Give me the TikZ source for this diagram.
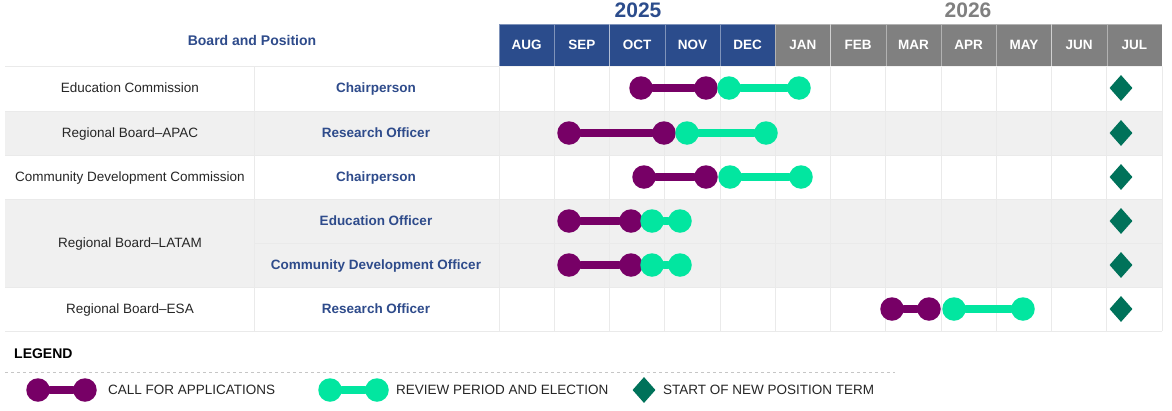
\documentclass[tikz,border=0pt]{standalone}
\usepackage{fontspec}
\setmainfont{Liberation Sans}
\usetikzlibrary{shapes.geometric}
\definecolor{navy}{HTML}{2B4C8C}
\definecolor{hdrgray}{HTML}{808080}
\definecolor{rowgray}{HTML}{F0F0F0}
\definecolor{gridgray}{HTML}{EAEAEA}
\definecolor{plum}{HTML}{770066}
\definecolor{mint}{HTML}{02E6A0}
\definecolor{termgreen}{HTML}{00725A}
\definecolor{posblue}{HTML}{2E4B8B}

\begin{document}
\begin{tikzpicture}[
  x=1pt, y=-1pt,
  pdot/.style={circle, fill=plum, inner sep=0pt, minimum size=23.5pt},
  gdot/.style={circle, fill=mint, inner sep=0pt, minimum size=23.5pt},
  pbar/.style={plum, line width=8pt, line cap=round},
  gbar/.style={mint, line width=7.5pt, line cap=round},
  startmark/.style={diamond, fill=termgreen, inner sep=0pt, minimum width=23pt, minimum height=26pt},
  monthcell/.style={fill=#1, draw=white, draw opacity=0.4, line width=0.4pt,
    minimum width=55.25pt, minimum height=42pt, inner sep=0pt, text=white,
    font=\bfseries\fontsize{13.5}{15}\selectfont},
  board/.style={font=\fontsize{13.5}{16}\selectfont, text=black!85, text height=10pt, text depth=0.5pt},
  post/.style={font=\bfseries\fontsize{13.5}{16}\selectfont, text=posblue, text height=10pt, text depth=0.5pt},
  legtext/.style={anchor=west, inner sep=0pt, font=\fontsize{13.5}{16}\selectfont, text=black!85},
  gridline/.style={gridgray, line width=0.6pt}
]
\useasboundingbox[fill=white] (0,0) rectangle (1172,410);

\fill[rowgray] (5,111) rectangle (1162,155);
\fill[rowgray] (5,199) rectangle (1162,287);
\foreach \k in {0,...,12}
  \draw[gridline] ({499+\k*55.25},66) -- ({499+\k*55.25},331);
\draw[gridline] (254,66) -- (254,331);
\foreach \y in {66,111,155,199,287,331}
  \draw[gridline] (5,\y) -- (1162,\y);
\draw[gridline] (254,243) -- (1162,243);

\node[font=\bfseries\fontsize{21}{24}\selectfont, text=navy] (y25) at (638,10) {2025};
\node[font=\bfseries\fontsize{21}{24}\selectfont, text=hdrgray] (y26) at (968,10) {2026};
\node[font=\bfseries\fontsize{14}{16}\selectfont, text=posblue] (hdr) at (252,40) {Board and Position};
\foreach \m/\c [count=\i] in {AUG/navy,SEP/navy,OCT/navy,NOV/navy,DEC/navy,JAN/hdrgray,
    FEB/hdrgray,MAR/hdrgray,APR/hdrgray,MAY/hdrgray,JUN/hdrgray,JUL/hdrgray}
  \node[monthcell=\c] (m\i) at ({499+(\i-0.5)*55.25},45) {\m};

\node[board] (b1) at (130,88) {Education Commission};
\node[board] (b2) at (130,133) {Regional Board--APAC};
\node[board] (b3) at (130,177) {Community Development Commission};
\node[board] (b4) at (130,243) {Regional Board--LATAM};
\node[board] (b6) at (130,309) {Regional Board--ESA};

\foreach \y/\t [count=\i] in {88/Chairperson,133/Research Officer,177/Chairperson,
    221/Education Officer,265/Community Development Officer,309/Research Officer}
  \node[post] (p\i) at (376,\y) {\t};

\foreach \y/\pa/\pb/\ga/\gb [count=\i] in {88/641/706/729/799,133/569/664/687/766,
    177/644/706/730/801,221/569/631/652/680,265/569/631/652/680,309/892/929/954/1023}{
  \node[pdot] (ca\i) at (\pa,\y) {};
  \node[pdot] (cb\i) at (\pb,\y) {};
  \draw[pbar] (ca\i) -- (cb\i);
  \node[gdot] (ra\i) at (\ga,\y) {};
  \node[gdot] (rb\i) at (\gb,\y) {};
  \draw[gbar] (ra\i) -- (rb\i);
  \node[startmark] (s\i) at (1121,\y) {};
}

\node[anchor=west, inner sep=0pt, font=\bfseries\fontsize{14}{16}\selectfont] (leg) at (14,354) {LEGEND};
\draw[gray!45, dashed, line width=0.5pt] (5,372) -- (895,372);
\node[pdot] (lca) at (38,390) {};
\node[pdot] (lcb) at (85,390) {};
\draw[pbar] (lca) -- (lcb);
\node[legtext] (lct) at (108,390) {CALL FOR APPLICATIONS};
\node[gdot] (lra) at (330,390) {};
\node[gdot] (lrb) at (377,390) {};
\draw[gbar] (lra) -- (lrb);
\node[legtext] (lrt) at (396,390) {REVIEW PERIOD AND ELECTION};
\node[startmark] (ls) at (644,390) {};
\node[legtext] (lst) at (663,390) {START OF NEW POSITION TERM};
\end{tikzpicture}
\end{document}
